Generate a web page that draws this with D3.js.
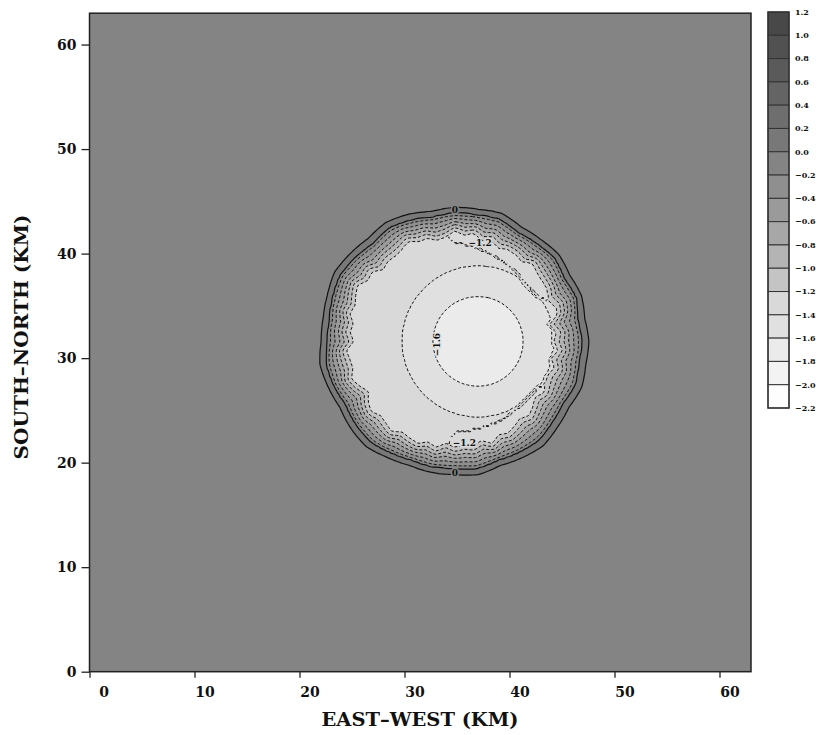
<!DOCTYPE html>
<html>
<head>
<meta charset="utf-8">
<script src="https://cdn.jsdelivr.net/npm/d3@7"></script>
<style>
  body { margin: 0; background: #fff; }
  text { font-family: "DejaVu Serif", serif; font-weight: bold; fill: #111; }
</style>
</head>
<body>
<div id="chart"></div>
<script>
// colour bar: levels top to bottom, box i lies between levels[i] and levels[i+1]
const levels = [1.2, 1.0, 0.8, 0.6, 0.4, 0.2, 0.0, -0.2, -0.4, -0.6, -0.8, -1.0, -1.2, -1.4, -1.6, -1.8, -2.0, -2.2];
const levelLabels = ["1.2", "1.0", "0.8", "0.6", "0.4", "0.2", "0.0", "\u22120.2", "\u22120.4", "\u22120.6", "\u22120.8",
  "\u22121.0", "\u22121.2", "\u22121.4", "\u22121.6", "\u22121.8", "\u22122.0", "\u22122.2"];
const boxGreys = ["#484848", "#515151", "#5a5a5a", "#646464", "#6e6e6e", "#787878", "#848484", "#8f8f8f", "#9a9a9a",
  "#a7a7a7", "#b4b4b4", "#c4c4c4", "#d9d9d9", "#e0e0e0", "#ebebeb", "#f3f3f3", "#fdfdfd"];
const xTicks = [0, 10, 20, 30, 40, 50, 60];
const yTicks = [0, 10, 20, 30, 40, 50, 60];

// the field (km)
// cold core: value against distance from its centre
const innerCentre = [37.0, 31.6];
const innerR = [0, 2.5, 4.3, 7.2, 10.5, 16];
const innerV = [-1.74, -1.69, -1.6, -1.4, -1.3, -1.26];
// outer edge: radius of the edge and width of the steep band, every 10 degrees from east
const outerCentre = [34.8, 31.6];
const edgeR = [12.6, 12.4, 12.7, 12.5, 12.8, 12.6, 12.5, 12.9, 12.7, 12.7, 12.5, 12.8, 13.0, 12.7, 12.9, 13.1, 12.8, 12.6,
  12.6, 12.9, 12.7, 12.5, 12.8, 13.0, 12.7, 12.5, 12.6, 12.6, 12.8, 12.5, 12.7, 12.9, 12.6, 12.4, 12.7, 12.5];
const bandW = [1.1, 1.1, 0.9, 1.0, 0.9, 0.9, 1.0, 1.0, 0.9, 0.9, 0.9, 1.0, 1.0, 1.1, 1.0, 1.0, 0.9, 1.0,
  1.0, 1.0, 0.9, 1.0, 1.0, 1.0, 0.9, 0.9, 0.9, 1.0, 1.0, 0.9, 1.0, 1.1, 1.1, 1.1, 1.1, 1.1];
// small wiggles inside the band, every 5 degrees
const ripple = [0.2, -0.1, 0.3, -0.2, 0.1, 0.3, -0.3, 0.0, 0.2, -0.2, 0.3, -0.1, -0.3, 0.2, 0.0, 0.3, -0.2, 0.1,
  -0.3, 0.2, 0.3, -0.1, 0.0, -0.3, 0.2, 0.1, -0.2, 0.3, -0.1, 0.2, -0.3, 0.0, 0.3, -0.2, 0.1, -0.1,
  0.3, -0.3, 0.1, 0.2, -0.2, 0.0, 0.3, -0.1, -0.3, 0.2, 0.1, -0.2, 0.3, 0.0, -0.3, 0.2, -0.1, 0.3,
  -0.2, 0.1, 0.0, 0.3, -0.3, 0.2, -0.1, 0.1, 0.3, -0.2, 0.0, 0.2, -0.3, 0.1, 0.3, -0.1, 0.2, -0.2];
// value across the band, against distance from the edge
const bandOffset = [-3.1, -2.8, -2.35, -1.95, -1.55, -1.15, -0.75, -0.4, -0.05, 0.3];
const bandValue = [-3.0, -1.25, -1.05, -0.85, -0.62, -0.42, -0.22, 0.06, 0.06, -0.05];
// the -1.2 tongues at upper right and lower right: radius of the thin ridge
const shelfR = [11.0, 11.0, 10.0, 8.8, 8.6, 8.7, 8.8, 8.9, 9.1, 9.3, 11.0, 11.0, 11.0, 11.0, 11.0, 11.0, 11.0, 11.0,
  11.0, 11.0, 11.0, 11.0, 11.0, 11.0, 11.0, 11.0, 11.0, 8.6, 8.5, 8.5, 8.6, 8.6, 8.7, 8.9, 10.0, 11.0];
const shelfValue = -1.17;

// contour labels
const contourLabels = [
  { text: "0", x: 34.8, y: 44.2, rot: 0, bg: "#848484" },
  { text: "0", x: 34.8, y: 19.0, rot: 0, bg: "#848484" },
  { text: "\u22121.2", x: 37.2, y: 41.0, rot: 0, bg: "#d9d9d9" },
  { text: "\u22121.2", x: 35.7, y: 21.9, rot: 0, bg: "#d9d9d9" },
  { text: "\u22121.6", x: 33.1, y: 31.3, rot: -90, bg: "#e5e5e5" }
];

const W = 827, H = 735;
const svg = d3.select("#chart").append("svg").attr("width", W).attr("height", H);

const x = d3.scaleLinear().domain([0, 63]).range([89.5, 751]);
const y = d3.scaleLinear().domain([0, 63]).range([671.7, 13.2]);

// build the grid
const step = 0.25;
const n = Math.round(63 / step) + 1;
const wrap = a => a.concat([a[0]]);
const edgeAt = d3.scaleLinear().domain(d3.range(0, 361, 10)).range(wrap(edgeR));
const widthAt = d3.scaleLinear().domain(d3.range(0, 361, 10)).range(wrap(bandW));
const shelfAt = d3.scaleLinear().domain(d3.range(0, 361, 10)).range(wrap(shelfR));
const rippleAt = d3.scaleLinear().domain(d3.range(0, 361, 5)).range(wrap(ripple));
const innerProfile = d3.scaleLinear().domain(innerR).range(innerV).clamp(true);
const bandProfile = d3.scaleLinear().domain(bandOffset).range(bandValue).clamp(true);
// how much the ripple counts: none at the outer rim, full deep in the band
const rippleWeight = d3.scaleLinear().domain([-2.4, -0.6]).range([1, 0]).clamp(true);

const values = new Float64Array(n * n);
for (let j = 0; j < n; j++) {
  for (let i = 0; i < n; i++) {
    const px = i * step, py = j * step;
    const d1 = Math.hypot(px - innerCentre[0], py - innerCentre[1]);
    const dx = px - outerCentre[0], dy = py - outerCentre[1];
    const d2 = Math.hypot(dx, dy);
    let a = Math.atan2(dy, dx) * 180 / Math.PI;
    if (a < 0) a += 360;
    let o = (d2 - edgeAt(a)) / widthAt(a);
    o += rippleAt(a) * rippleWeight(o);
    const s = shelfAt(a);
    const shelf = d3.scaleLinear().domain([s - 0.35, s, s + 0.25, s + 0.6]).range([-3, shelfValue, shelfValue, -3]).clamp(true)(d2);
    values[j * n + i] = Math.max(innerProfile(d1), bandProfile(o), shelf);
  }
}

const thresholds = levels.slice().reverse(); // ascending
const contours = d3.contours().size([n, n]).thresholds(thresholds)(values);

const proj = d3.geoTransform({
  point: function (gx, gy) { this.stream.point(x((gx - 0.5) * step), y((gy - 0.5) * step)); }
});
const path = d3.geoPath(proj);

svg.append("clipPath").attr("id", "plotclip").append("rect")
  .attr("x", x(0)).attr("y", y(63)).attr("width", x(63) - x(0)).attr("height", y(0) - y(63));

const gPlot = svg.append("g").attr("clip-path", "url(#plotclip)");

// filled bands
gPlot.selectAll("path.band")
  .data(contours.filter(c => levels.indexOf(c.value) > 0))
  .enter().append("path")
  .attr("class", "band")
  .attr("d", path)
  .attr("fill", c => boxGreys[levels.indexOf(c.value) - 1])
  .attr("stroke", "none");

// contour lines
gPlot.selectAll("path.line")
  .data(contours.filter(c => c.value <= 0.0001 && c.value >= -1.81))
  .enter().append("path")
  .attr("class", "line")
  .attr("d", path)
  .attr("fill", "none")
  .attr("stroke", "#111")
  .attr("stroke-width", c => c.value > -0.0001 ? 1.2 : 1)
  .attr("stroke-dasharray", c => c.value < -0.0001 ? "3,2" : null);

// contour labels
gPlot.selectAll("text.clab")
  .data(contourLabels)
  .enter().append("text")
  .attr("class", "clab")
  .attr("transform", d => "translate(" + x(d.x) + "," + y(d.y) + ") rotate(" + d.rot + ")")
  .attr("text-anchor", "middle")
  .attr("dy", "0.35em")
  .style("font-size", "9px")
  .style("paint-order", "stroke")
  .style("stroke", d => d.bg)
  .style("stroke-width", 3)
  .text(d => d.text);

// frame
svg.append("rect")
  .attr("x", x(0)).attr("y", y(63)).attr("width", x(63) - x(0)).attr("height", y(0) - y(63))
  .attr("fill", "none").attr("stroke", "#222").attr("stroke-width", 1.5);

// axes
const gx = svg.append("g").attr("transform", "translate(0," + y(0) + ")")
  .call(d3.axisBottom(x).tickValues(xTicks).tickSize(6).tickPadding(9).tickFormat(d3.format("d")));
const gy = svg.append("g").attr("transform", "translate(" + x(0) + ",0)")
  .call(d3.axisLeft(y).tickValues(yTicks).tickSize(8).tickPadding(5).tickFormat(d3.format("d")));
[gx, gy].forEach(g => {
  g.select(".domain").remove();
  g.selectAll("line").attr("stroke", "#222").attr("stroke-width", 1.3);
  g.selectAll("text").style("font-size", "14px").attr("fill", "#111");
});
gx.selectAll("text").attr("dx", d => d === 0 ? 14 : 10);

// axis titles
svg.append("text")
  .attr("x", 420).attr("y", 726)
  .attr("text-anchor", "middle")
  .attr("textLength", 197).attr("lengthAdjust", "spacingAndGlyphs")
  .style("font-size", "18px")
  .text("EAST\u2013WEST (KM)");
svg.append("text")
  .attr("transform", "translate(28,337) rotate(-90)")
  .attr("text-anchor", "middle")
  .attr("textLength", 245).attr("lengthAdjust", "spacingAndGlyphs")
  .style("font-size", "18px")
  .text("SOUTH\u2013NORTH (KM)");

// colour bar
const cb = d3.scaleLinear().domain([levels[0], levels[levels.length - 1]]).range([12, 408]);
const gCb = svg.append("g");
gCb.selectAll("rect")
  .data(boxGreys)
  .enter().append("rect")
  .attr("x", 768).attr("width", 21)
  .attr("y", (d, i) => cb(levels[i]))
  .attr("height", (d, i) => cb(levels[i + 1]) - cb(levels[i]))
  .attr("fill", d => d)
  .attr("stroke", "#333").attr("stroke-width", 1);
gCb.append("rect")
  .attr("x", 768).attr("y", cb(levels[0])).attr("width", 21).attr("height", cb(levels[levels.length - 1]) - cb(levels[0]))
  .attr("fill", "none").attr("stroke", "#333").attr("stroke-width", 1.4);
gCb.selectAll("text")
  .data(levelLabels)
  .enter().append("text")
  .attr("x", 795)
  .attr("y", (d, i) => cb(levels[i]))
  .attr("dy", "0.35em")
  .style("font-size", "8px")
  .text(d => d);
</script>
</body>
</html>
